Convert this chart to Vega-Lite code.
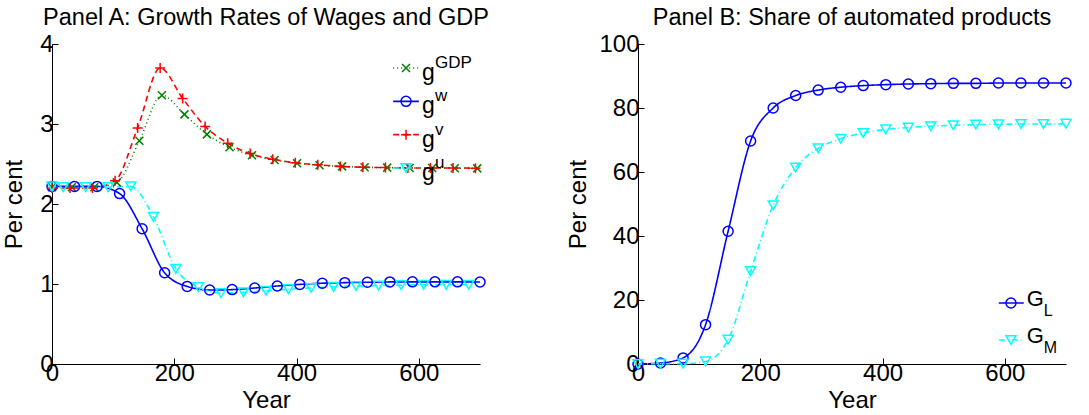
{
  "$schema": "https://vega.github.io/schema/vega-lite/v6.json",
  "background": "white",
  "padding": {"left": 2, "top": 5, "right": 5, "bottom": 0},
  "spacing": 76,
  "config": {
    "view": {"stroke": null},
    "font": "Liberation Sans",
    "axis": {
      "domainColor": "#000", "domainWidth": 1, "tickColor": "#000", "tickSize": -6, "tickWidth": 1,
      "labelColor": "#000", "labelFontSize": 24, "labelFont": "Liberation Sans",
      "labelFlush": false, "labelOverlap": false,
      "titleColor": "#000", "titleFont": "Liberation Sans", "titleFontSize": 24, "titleFontWeight": "normal",
      "grid": false
    },
    "axisX": {"labelPadding": 3, "titlePadding": 3},
    "axisY": {"labelPadding": 5, "titlePadding": 8},
    "title": {"fontSize": 23.5, "fontWeight": "normal", "font": "Liberation Sans", "color": "#000", "offset": 3, "anchor": "middle"}
  },
  "datasets": {
    "panelA": [
      {"series": "gGDP", "year": 0, "value": 2.21}, {"series": "gGDP", "year": 32.4, "value": 2.21}, {"series": "gGDP", "year": 69.2, "value": 2.21},
      {"series": "gGDP", "year": 106, "value": 2.27}, {"series": "gGDP", "year": 142.9, "value": 2.79}, {"series": "gGDP", "year": 179.7, "value": 3.36},
      {"series": "gGDP", "year": 216.6, "value": 3.12}, {"series": "gGDP", "year": 253.4, "value": 2.87}, {"series": "gGDP", "year": 290.3, "value": 2.71},
      {"series": "gGDP", "year": 327.1, "value": 2.61}, {"series": "gGDP", "year": 364, "value": 2.55}, {"series": "gGDP", "year": 400.8, "value": 2.51},
      {"series": "gGDP", "year": 437.6, "value": 2.485}, {"series": "gGDP", "year": 474.5, "value": 2.47}, {"series": "gGDP", "year": 511.3, "value": 2.46},
      {"series": "gGDP", "year": 548.2, "value": 2.455}, {"series": "gGDP", "year": 585, "value": 2.45}, {"series": "gGDP", "year": 621.8, "value": 2.45},
      {"series": "gGDP", "year": 658.7, "value": 2.447}, {"series": "gGDP", "year": 695.5, "value": 2.445},
      {"series": "gw", "year": 0, "value": 2.22}, {"series": "gw", "year": 36.8, "value": 2.22}, {"series": "gw", "year": 73.7, "value": 2.22},
      {"series": "gw", "year": 110.5, "value": 2.13}, {"series": "gw", "year": 147.4, "value": 1.69}, {"series": "gw", "year": 184.2, "value": 1.14},
      {"series": "gw", "year": 221.1, "value": 0.97}, {"series": "gw", "year": 257.9, "value": 0.925}, {"series": "gw", "year": 294.7, "value": 0.93},
      {"series": "gw", "year": 331.6, "value": 0.95}, {"series": "gw", "year": 368.4, "value": 0.975}, {"series": "gw", "year": 405.3, "value": 0.995},
      {"series": "gw", "year": 442.1, "value": 1.01}, {"series": "gw", "year": 478.9, "value": 1.017}, {"series": "gw", "year": 515.8, "value": 1.022},
      {"series": "gw", "year": 552.6, "value": 1.026}, {"series": "gw", "year": 589.5, "value": 1.027}, {"series": "gw", "year": 626.3, "value": 1.027},
      {"series": "gw", "year": 663.2, "value": 1.027}, {"series": "gw", "year": 700, "value": 1.025},
      {"series": "gv", "year": 0, "value": 2.2}, {"series": "gv", "year": 29.5, "value": 2.2}, {"series": "gv", "year": 66.3, "value": 2.2},
      {"series": "gv", "year": 103.2, "value": 2.29}, {"series": "gv", "year": 140, "value": 2.95}, {"series": "gv", "year": 176.9, "value": 3.7},
      {"series": "gv", "year": 213.7, "value": 3.32}, {"series": "gv", "year": 250.5, "value": 2.97}, {"series": "gv", "year": 287.4, "value": 2.76},
      {"series": "gv", "year": 324.2, "value": 2.63}, {"series": "gv", "year": 361.1, "value": 2.56}, {"series": "gv", "year": 397.9, "value": 2.515},
      {"series": "gv", "year": 434.7, "value": 2.49}, {"series": "gv", "year": 471.6, "value": 2.47}, {"series": "gv", "year": 508.4, "value": 2.46},
      {"series": "gv", "year": 545.3, "value": 2.455}, {"series": "gv", "year": 582.1, "value": 2.45}, {"series": "gv", "year": 618.9, "value": 2.45},
      {"series": "gv", "year": 655.8, "value": 2.45}, {"series": "gv", "year": 692.6, "value": 2.447},
      {"series": "gu", "year": 0, "value": 2.22}, {"series": "gu", "year": 18.4, "value": 2.21}, {"series": "gu", "year": 55.3, "value": 2.21},
      {"series": "gu", "year": 92.1, "value": 2.21}, {"series": "gu", "year": 128.9, "value": 2.22}, {"series": "gu", "year": 165.8, "value": 1.84},
      {"series": "gu", "year": 202.6, "value": 1.19}, {"series": "gu", "year": 239.5, "value": 0.96}, {"series": "gu", "year": 276.3, "value": 0.885},
      {"series": "gu", "year": 313.2, "value": 0.895}, {"series": "gu", "year": 350, "value": 0.915}, {"series": "gu", "year": 386.8, "value": 0.935},
      {"series": "gu", "year": 423.7, "value": 0.95}, {"series": "gu", "year": 460.5, "value": 0.965}, {"series": "gu", "year": 497.4, "value": 0.975},
      {"series": "gu", "year": 534.2, "value": 0.98}, {"series": "gu", "year": 571, "value": 0.985}, {"series": "gu", "year": 607.9, "value": 0.99},
      {"series": "gu", "year": 644.7, "value": 0.99}, {"series": "gu", "year": 681.6, "value": 0.99}
    ],
    "panelB": [
      {"series": "GL", "year": 0, "value": 0}, {"series": "GL", "year": 36.8, "value": 0.3}, {"series": "GL", "year": 73.7, "value": 1.9},
      {"series": "GL", "year": 110.5, "value": 12.3}, {"series": "GL", "year": 147.4, "value": 41.5}, {"series": "GL", "year": 184.2, "value": 69.7},
      {"series": "GL", "year": 221.1, "value": 80}, {"series": "GL", "year": 257.9, "value": 83.9}, {"series": "GL", "year": 294.7, "value": 85.6},
      {"series": "GL", "year": 331.6, "value": 86.5}, {"series": "GL", "year": 368.4, "value": 87}, {"series": "GL", "year": 405.3, "value": 87.3},
      {"series": "GL", "year": 442.1, "value": 87.5}, {"series": "GL", "year": 478.9, "value": 87.6}, {"series": "GL", "year": 515.8, "value": 87.7},
      {"series": "GL", "year": 552.6, "value": 87.7}, {"series": "GL", "year": 589.5, "value": 87.8}, {"series": "GL", "year": 626.3, "value": 87.8},
      {"series": "GL", "year": 663.2, "value": 87.8}, {"series": "GL", "year": 700, "value": 87.8},
      {"series": "GM", "year": 0, "value": 0}, {"series": "GM", "year": 36.8, "value": 0.1}, {"series": "GM", "year": 73.7, "value": 0.1},
      {"series": "GM", "year": 110.5, "value": 0.8}, {"series": "GM", "year": 147.4, "value": 7.6}, {"series": "GM", "year": 184.2, "value": 29},
      {"series": "GM", "year": 221.1, "value": 49.6}, {"series": "GM", "year": 257.9, "value": 61.4}, {"series": "GM", "year": 294.7, "value": 67.4},
      {"series": "GM", "year": 331.6, "value": 70.4}, {"series": "GM", "year": 368.4, "value": 72.2}, {"series": "GM", "year": 405.3, "value": 73.3},
      {"series": "GM", "year": 442.1, "value": 73.9}, {"series": "GM", "year": 478.9, "value": 74.3}, {"series": "GM", "year": 515.8, "value": 74.6},
      {"series": "GM", "year": 552.6, "value": 74.8}, {"series": "GM", "year": 589.5, "value": 74.9}, {"series": "GM", "year": 626.3, "value": 75},
      {"series": "GM", "year": 663.2, "value": 75}, {"series": "GM", "year": 700, "value": 75.1}
    ],
    "legendA": [
      {"series": "gGDP", "base": "g", "script": "GDP", "rank": 1},
      {"series": "gw", "base": "g", "script": "w", "rank": 2},
      {"series": "gv", "base": "g", "script": "v", "rank": 3},
      {"series": "gu", "base": "g", "script": "u", "rank": 4}
    ],
    "legendB": [
      {"series": "GL", "base": "G", "script": "L", "rank": 1},
      {"series": "GM", "base": "G", "script": "M", "rank": 2}
    ]
  },
  "hconcat": [
    {
      "width": 428, "height": 320,
      "title": {"text": "Panel A: Growth Rates of Wages and GDP"},
      "layer": [
        {
          "data": {"name": "panelA"},
          "layer": [
            {
              "mark": {"type": "line", "interpolate": "monotone", "strokeWidth": 1.6},
              "encoding": {
                "x": {"field": "year", "type": "quantitative", "scale": {"domain": [0, 700], "nice": false, "zero": false}, "axis": {"values": [0, 200, 400, 600], "title": "Year"}},
                "y": {"field": "value", "type": "quantitative", "scale": {"domain": [0, 4], "nice": false}, "axis": {"values": [0, 1, 2, 3, 4], "format": "d", "title": "Per cent", "titlePadding": 13}},
                "color": {"field": "series", "type": "nominal", "legend": null, "scale": {"domain": ["gGDP", "gw", "gv", "gu", "GL", "GM"], "range": ["#008000", "#0000ff", "#ff0000", "#00ffff", "#0000ff", "#00ffff"]}},
                "strokeDash": {"field": "series", "type": "nominal", "legend": null, "scale": {"domain": ["gGDP", "gw", "gv", "gu", "GL", "GM"], "range": [[1, 3], [1, 0], [6, 4], [6, 3, 1, 3], [1, 0], [6, 3, 1, 3]]}}
              }
            },
            {
              "mark": {"type": "point", "filled": false, "size": 100, "strokeWidth": 1.5, "opacity": 1},
              "encoding": {
                "x": {"field": "year", "type": "quantitative"},
                "y": {"field": "value", "type": "quantitative"},
                "color": {"field": "series", "type": "nominal", "legend": null, "scale": {"domain": ["gGDP", "gw", "gv", "gu", "GL", "GM"], "range": ["#008000", "#0000ff", "#ff0000", "#00ffff", "#0000ff", "#00ffff"]}},
                "shape": {"field": "series", "type": "nominal", "legend": null, "scale": {"domain": ["gGDP", "gw", "gv", "gu", "GL", "GM"], "range": ["M-0.8,-0.8L0.8,0.8M-0.8,0.8L0.8,-0.8", "circle", "M-1,0L1,0M0,-1L0,1", "triangle-down", "circle", "triangle-down"]}}
              }
            }
          ]
        },
        {
          "data": {"name": "legendA"},
          "layer": [
            {
              "mark": {"type": "rule", "strokeWidth": 1.6},
              "encoding": {
                "x": {"datum": 558}, "x2": {"datum": 600},
                "y": {"field": "rank", "type": "ordinal", "scale": {"type": "point", "range": [24, 124], "padding": 0}, "axis": null},
                "color": {"field": "series", "type": "nominal", "legend": null},
                "strokeDash": {"field": "series", "type": "nominal", "legend": null}
              }
            },
            {
              "mark": {"type": "point", "filled": false, "size": 100, "strokeWidth": 1.5, "opacity": 1},
              "encoding": {
                "x": {"datum": 579},
                "y": {"field": "rank", "type": "ordinal"},
                "color": {"field": "series", "type": "nominal", "legend": null},
                "shape": {"field": "series", "type": "nominal", "legend": null}
              }
            },
            {
              "mark": {"type": "text", "align": "left", "baseline": "alphabetic", "dy": 12, "fontSize": 23, "font": "Liberation Sans", "color": "#000"},
              "encoding": {"x": {"datum": 605}, "y": {"field": "rank", "type": "ordinal"}, "text": {"field": "base"}}
            },
            {
              "mark": {"type": "text", "align": "left", "baseline": "alphabetic", "dx": 13, "dy": 0, "fontSize": 17, "font": "Liberation Sans", "color": "#000"},
              "encoding": {"x": {"datum": 605}, "y": {"field": "rank", "type": "ordinal"}, "text": {"field": "script"}}
            }
          ]
        }
      ],
      "resolve": {"scale": {"y": "independent"}}
    },
    {
      "width": 428, "height": 320,
      "title": {"text": "Panel B: Share of automated products"},
      "layer": [
        {
          "data": {"name": "panelB"},
          "layer": [
            {
              "mark": {"type": "line", "interpolate": "monotone", "strokeWidth": 1.6},
              "encoding": {
                "x": {"field": "year", "type": "quantitative", "scale": {"domain": [0, 700], "nice": false, "zero": false}, "axis": {"values": [0, 200, 400, 600], "title": "Year"}},
                "y": {"field": "value", "type": "quantitative", "scale": {"domain": [0, 100], "nice": false}, "axis": {"values": [0, 20, 40, 60, 80, 100], "format": "d", "title": "Per cent"}},
                "color": {"field": "series", "type": "nominal", "legend": null, "scale": {"domain": ["gGDP", "gw", "gv", "gu", "GL", "GM"], "range": ["#008000", "#0000ff", "#ff0000", "#00ffff", "#0000ff", "#00ffff"]}},
                "strokeDash": {"field": "series", "type": "nominal", "legend": null, "scale": {"domain": ["gGDP", "gw", "gv", "gu", "GL", "GM"], "range": [[1, 3], [1, 0], [6, 4], [6, 3, 1, 3], [1, 0], [6, 3, 1, 3]]}}
              }
            },
            {
              "mark": {"type": "point", "filled": false, "size": 100, "strokeWidth": 1.5, "opacity": 1},
              "encoding": {
                "x": {"field": "year", "type": "quantitative"},
                "y": {"field": "value", "type": "quantitative"},
                "color": {"field": "series", "type": "nominal", "legend": null, "scale": {"domain": ["gGDP", "gw", "gv", "gu", "GL", "GM"], "range": ["#008000", "#0000ff", "#ff0000", "#00ffff", "#0000ff", "#00ffff"]}},
                "shape": {"field": "series", "type": "nominal", "legend": null, "scale": {"domain": ["gGDP", "gw", "gv", "gu", "GL", "GM"], "range": ["M-0.8,-0.8L0.8,0.8M-0.8,0.8L0.8,-0.8", "circle", "M-1,0L1,0M0,-1L0,1", "triangle-down", "circle", "triangle-down"]}}
              }
            }
          ]
        },
        {
          "data": {"name": "legendB"},
          "layer": [
            {
              "mark": {"type": "rule", "strokeWidth": 1.6},
              "encoding": {
                "x": {"datum": 590}, "x2": {"datum": 631},
                "y": {"field": "rank", "type": "ordinal", "scale": {"type": "point", "range": [259, 296], "padding": 0}, "axis": null},
                "color": {"field": "series", "type": "nominal", "legend": null},
                "strokeDash": {"field": "series", "type": "nominal", "legend": null}
              }
            },
            {
              "mark": {"type": "point", "filled": false, "size": 100, "strokeWidth": 1.5, "opacity": 1},
              "encoding": {
                "x": {"datum": 610},
                "y": {"field": "rank", "type": "ordinal"},
                "color": {"field": "series", "type": "nominal", "legend": null},
                "shape": {"field": "series", "type": "nominal", "legend": null}
              }
            },
            {
              "mark": {"type": "text", "align": "left", "baseline": "alphabetic", "dy": 3, "fontSize": 22, "font": "Liberation Sans", "color": "#000"},
              "encoding": {"x": {"datum": 636}, "y": {"field": "rank", "type": "ordinal"}, "text": {"field": "base"}}
            },
            {
              "mark": {"type": "text", "align": "left", "baseline": "alphabetic", "dx": 17, "dy": 13, "fontSize": 16, "font": "Liberation Sans", "color": "#000"},
              "encoding": {"x": {"datum": 636}, "y": {"field": "rank", "type": "ordinal"}, "text": {"field": "script"}}
            }
          ]
        }
      ],
      "resolve": {"scale": {"y": "independent"}}
    }
  ]
}
